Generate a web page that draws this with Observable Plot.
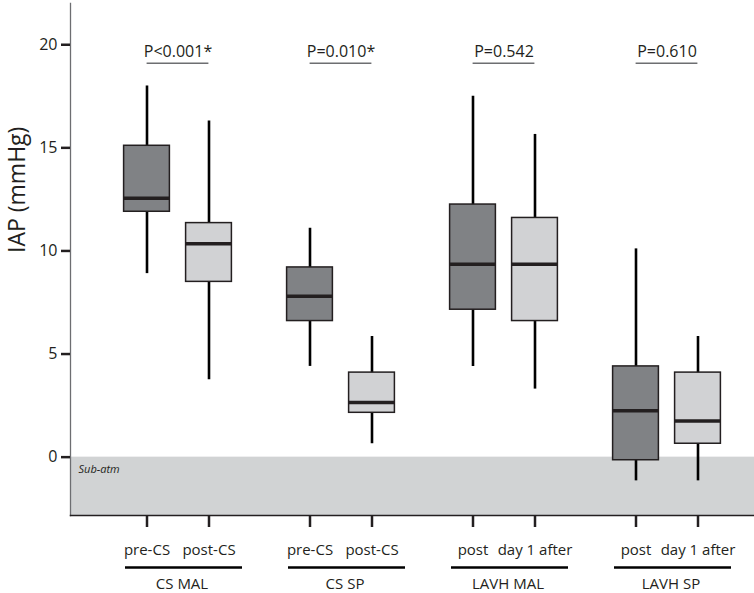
<!DOCTYPE html>
<html><head><meta charset="utf-8">
<script src="https://cdn.jsdelivr.net/npm/d3@7"></script>
<script src="https://cdn.jsdelivr.net/npm/@observablehq/plot@0.6"></script>
<style>body{margin:0;background:#fff}</style>
</head><body><div id="chart"></div>
<script>
// ---- data ----
const groups = ["CS MAL", "CS SP", "LAVH MAL", "LAVH SP"];
const firstLabels = ["pre-CS", "pre-CS", "post", "post"];
const secondLabels = ["post-CS", "post-CS", "day 1 after", "day 1 after"];
const pValues = ["P<0.001*", "P=0.010*", "P=0.542", "P=0.610"];
const yTicks = [0, 5, 10, 15, 20];

// first (dark) boxes
const firstMin = [8.9, 4.4, 4.4, -1.15];
const firstQ1 = [11.9, 6.6, 7.15, -0.15];
const firstMed = [12.55, 7.8, 9.35, 2.25];
const firstQ3 = [15.1, 9.2, 12.25, 4.4];
const firstMax = [18.0, 11.1, 17.5, 10.1];
// second (light) boxes
const secondMin = [3.75, 0.65, 3.3, -1.15];
const secondQ1 = [8.5, 2.15, 6.6, 0.65];
const secondMed = [10.35, 2.65, 9.35, 1.75];
const secondQ3 = [11.35, 4.1, 11.6, 4.1];
const secondMax = [16.3, 5.85, 15.65, 5.85];

const pLineY = 19.1;          // level of the p-value bars
const yDomain = [-2.83, 22];

// ---- build tables ----
const mk = (mn, q1, md, q3, mx) => groups.map((g, i) => ({group: g, min: mn[i], q1: q1[i], med: md[i], q3: q3[i], max: mx[i]}));
const firstRows = mk(firstMin, firstQ1, firstMed, firstQ3, firstMax);
const secondRows = mk(secondMin, secondQ1, secondMed, secondQ3, secondMax);
const pRows = groups.map((g, i) => ({group: g, p: pValues[i]}));

const SLOT = 31;      // half distance between the two boxes in a group
const BOX_INSET = 58.6;
const DARK = "#231f20";

function boxMarks(data, fill, dx) {
  return [
    Plot.ruleX(data, {x: "group", y1: "min", y2: "max", dx, stroke: "#000", strokeWidth: 2.6}),
    Plot.barY(data, {x: "group", y1: "q1", y2: "q3", dx, fill, stroke: DARK, strokeWidth: 1.5, insetLeft: BOX_INSET, insetRight: BOX_INSET}),
    Plot.tickY(data, {x: "group", y: "med", dx, stroke: DARK, strokeWidth: 3.5, insetLeft: BOX_INSET, insetRight: BOX_INSET})
  ];
}

const chart = Plot.plot({
  width: 754,
  height: 593,
  marginTop: 3,
  marginBottom: 78,
  marginLeft: 70,
  marginRight: 0,
  style: {fontFamily: "'Open Sans', sans-serif", fontSize: "15px", color: DARK, background: "#fff"},
  x: {type: "band", domain: groups, paddingInner: 0, paddingOuter: 0.095, align: 0.82, label: null},
  y: {domain: yDomain, label: null},
  marks: [
    Plot.rect([{lo: yDomain[0], hi: 0}], {y1: "lo", y2: "hi", fill: "#d1d3d4"}),
    Plot.text(["Sub-atm"], {frameAnchor: "left", y: 0, dx: 8, dy: 8, lineAnchor: "top", textAnchor: "start", fontSize: 11, fontStyle: "italic", fill: DARK}),
    ...boxMarks(firstRows, "#808285", -SLOT),
    ...boxMarks(secondRows, "#d1d2d4", SLOT),
    // p-value bars and texts
    Plot.ruleY(pRows, {x1: "group", x2: "group", y: () => pLineY, stroke: "#6d6e71", strokeWidth: 1.5, insetLeft: 81.6 - SLOT, insetRight: 81.6 - SLOT}),
    Plot.text(pRows, {x: "group", y: () => pLineY, text: "p", dy: -6, lineAnchor: "bottom", fontSize: 16, fill: DARK}),
    // axes lines
    Plot.frame({anchor: "left", stroke: "#6d6e71", strokeWidth: 1.3}),
    Plot.frame({anchor: "bottom", stroke: DARK, strokeWidth: 1.5}),
    Plot.axisY({ticks: yTicks, tickSize: 9, tickPadding: 4, strokeWidth: 2.5, fontSize: 16, label: null}),
    Plot.axisX({tickSize: 12, tickPadding: 17, dx: -SLOT, strokeWidth: 2.5, fontSize: 15, label: null,
      tickFormat: g => firstLabels[groups.indexOf(g)]}),
    Plot.axisX({tickSize: 12, tickPadding: 17, dx: SLOT, strokeWidth: 2.5, fontSize: 15, label: null,
      tickFormat: g => secondLabels[groups.indexOf(g)]}),
    // group underlines and names
    Plot.ruleY(groups, {x1: d => d, x2: d => d, y: () => yDomain[0], dy: 52, stroke: "#000", strokeWidth: 2.5, insetLeft: 29, insetRight: 17}),
    Plot.text(groups, {x: d => d, y: () => yDomain[0], text: d => d, dy: 73, dx: 4, lineAnchor: "bottom", fontSize: 15, fill: DARK}),
    // y label
    Plot.text(["IAP (mmHg)"], {frameAnchor: "left", dx: -53, dy: -6.5, rotate: -90, fontSize: 23, fill: DARK})
  ]
});
document.getElementById("chart").appendChild(chart);
</script>
</body></html>
